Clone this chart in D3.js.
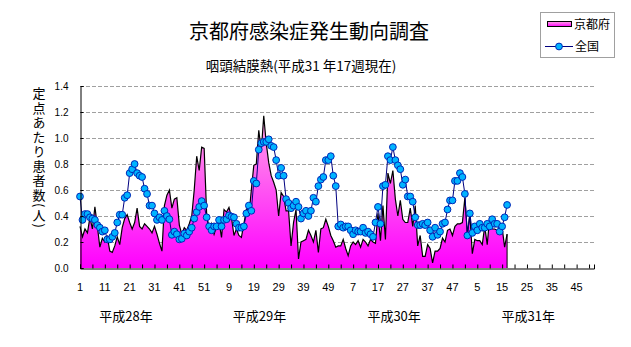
<!DOCTYPE html>
<html><head><meta charset="utf-8">
<script src="https://cdn.jsdelivr.net/npm/d3@7"></script>
<style>
html,body{margin:0;padding:0;background:#fff;}
svg{display:block;}
text{font-family:"Noto Sans CJK JP","Noto Sans",sans-serif;}
</style></head>
<body>
<svg id="chart" width="631" height="347"></svg>
<script>
const title = "京都府感染症発生動向調査";
const subtitle = "咽頭結膜熱(平成31 年17週現在)";
const yAxisTitle = "定点あたり患者数(人)";
const seriesNames = ["京都府", "全国"];
const yTicks = [0, 0.2, 0.4, 0.6, 0.8, 1.0, 1.2, 1.4];
const xTickLabels = ["1","11","21","31","41","51","9","19","29","39","49","7","17","27","37","47","5","15","25","35","45"];
const yearLabels = ["平成28年","平成29年","平成30年","平成31年"];
const totalWeeks = 208;

// 京都府 (weekly, continuous from H28 week 1)
const kyoto = [
0.32,0.24,0.30,0.27,0.39,0.30,0.47,0.32,0.16,0.23,
0.20,0.24,0.13,0.12,0.17,0.24,0.18,0.31,0.38,0.41,
0.35,0.30,0.35,0.46,0.32,0.30,0.34,0.32,0.30,0.27,
0.32,0.26,0.19,0.13,0.48,0.56,0.60,0.46,0.53,0.54,
0.33,0.26,0.31,0.29,0.34,0.40,0.60,0.86,0.75,0.93,
0.92,0.42,0.28,0.34,0.26,0.32,0.35,0.235,0.45,0.43,
0.466,0.39,0.25,0.30,0.25,0.235,0.34,0.45,0.40,0.60,
0.79,0.80,1.06,0.90,1.17,0.96,0.81,0.71,0.66,0.60,
0.40,0.58,0.55,0.44,0.44,0.17,0.35,0.45,0.07,0.20,
0.21,0.22,0.29,0.25,0.20,0.29,0.12,0.30,0.31,0.375,
0.32,0.25,0.21,0.16,0.17,0.17,0.22,0.15,0.095,0.17,
0.20,0.18,0.21,0.16,0.22,0.20,0.17,0.22,0.20,0.19,
0.42,0.21,0.48,0.22,0.73,0.65,0.75,0.53,0.40,0.52,
0.375,0.35,0.35,0.46,0.32,0.48,0.17,0.25,0.09,0.09,
0.18,0.15,0.04,0.13,0.13,0.15,0.23,0.20,0.29,0.30,
0.25,0.32,0.34,0.34,0.35,0.54,0.26,0.41,0.11,0.22,
0.21,0.21,0.18,0.32,0.18,0.39,0.30,0.30,0.29,0.31,
0.31,0.16,0.26
];

// 全国
const national = [
0.55,0.37,0.415,0.415,0.39,0.38,0.37,0.33,0.31,0.28,
0.29,0.22,0.22,0.24,0.27,0.35,0.41,0.41,0.54,0.56,
0.73,0.76,0.80,0.73,0.71,0.70,0.61,0.57,0.48,0.48,
0.42,0.37,0.39,0.37,0.44,0.40,0.375,0.255,0.28,0.26,
0.22,0.225,0.265,0.25,0.28,0.31,0.38,0.43,0.47,0.515,
0.48,0.39,0.32,0.29,0.32,0.32,0.37,0.32,0.37,0.375,
0.405,0.395,0.39,0.34,0.31,0.31,0.32,0.42,0.48,0.44,
0.67,0.65,0.91,0.96,0.97,0.97,0.99,0.94,0.93,0.83,
0.71,0.77,0.71,0.53,0.50,0.46,0.48,0.51,0.47,0.38,
0.42,0.44,0.40,0.44,0.54,0.51,0.63,0.68,0.70,0.83,
0.83,0.86,0.71,0.63,0.32,0.335,0.31,0.32,0.32,0.29,
0.26,0.29,0.28,0.28,0.31,0.27,0.28,0.26,0.24,0.35,
0.47,0.34,0.63,0.64,0.86,0.83,0.93,0.83,0.79,0.76,
0.64,0.68,0.55,0.55,0.51,0.39,0.33,0.33,0.34,0.33,
0.35,0.29,0.24,0.31,0.255,0.28,0.34,0.35,0.45,0.52,
0.52,0.67,0.67,0.73,0.70,0.57,0.25,0.42,0.27,0.32,
0.29,0.34,0.31,0.31,0.34,0.32,0.375,0.34,0.34,0.28,
0.32,0.39,0.485
];

const svg = d3.select("#chart");
const x = d3.scaleLinear().domain([1, totalWeeks]).range([80, 594]);
const y = d3.scaleLinear().domain([0, 1.4]).range([268, 86]);

// gradient
const defs = svg.append("defs");
const grad = defs.append("linearGradient").attr("id","pinkGrad")
  .attr("gradientUnits","userSpaceOnUse").attr("x1",0).attr("x2",0)
  .attr("y1",y(0)).attr("y2",y(1.2));
grad.append("stop").attr("offset","0%").attr("stop-color","#ff00ff");
grad.append("stop").attr("offset","100%").attr("stop-color","#ffa8e6");
const lgrad = defs.append("linearGradient").attr("id","legGrad")
  .attr("x1",0).attr("x2",0).attr("y1",1).attr("y2",0);
lgrad.append("stop").attr("offset","0%").attr("stop-color","#ff00ff");
lgrad.append("stop").attr("offset","100%").attr("stop-color","#ffa8e6");

// gridlines
svg.append("g").selectAll("line").data(yTicks.filter(d=>d>0)).join("line")
  .attr("x1", x(1)).attr("x2", x(totalWeeks))
  .attr("y1", d=>y(d)+0.5).attr("y2", d=>y(d)+0.5)
  .attr("stroke","#a0a0a0").attr("stroke-width",1).attr("stroke-dasharray","4,2");

// Kyoto area
const kData = kyoto.map((v,i)=>({w:i+1, v}));
const area = d3.area().x(d=>x(d.w)).y0(y(0)).y1(d=>y(d.v));
svg.append("path").datum(kData).attr("d", area).attr("fill","url(#pinkGrad)");
const line = d3.line().x(d=>x(d.w)).y(d=>y(d.v));
svg.append("path").datum(kData).attr("d", line).attr("fill","none")
  .attr("stroke","#000").attr("stroke-width",1.2);
const last = kData[kData.length-1];
svg.append("line").attr("x1",x(last.w)).attr("x2",x(last.w)).attr("y1",y(last.v)).attr("y2",y(0))
  .attr("stroke","#000").attr("stroke-width",1);

// National line
const nData = national.map((v,i)=>({w:i+1, v}));
svg.append("path").datum(nData).attr("d", line).attr("fill","none")
  .attr("stroke","#000080").attr("stroke-width",1);
svg.append("g").selectAll("circle").data(nData).join("circle")
  .attr("cx", d=>x(d.w)).attr("cy", d=>y(d.v)).attr("r",3.4)
  .attr("fill","#00b4ff").attr("stroke","#0028b8").attr("stroke-width",1);

// axes
const yAxis = d3.axisLeft(y).tickValues(yTicks).tickFormat(d3.format(".1f")).tickSize(-3).tickPadding(12);
const gy = svg.append("g").attr("transform","translate(80.5,0)").call(yAxis);
gy.select(".domain").attr("stroke","#000");
gy.selectAll(".tick line").attr("stroke","#000");
gy.selectAll("text").attr("font-size","10px").attr("fill","#000")
  .style("font-family","'Liberation Sans',sans-serif");

const minorTicks = d3.range(1, totalWeeks+1, 5);
const xAxis = d3.axisBottom(x).tickValues(minorTicks).tickFormat("").tickSize(-4);
const gx = svg.append("g").attr("transform",`translate(0,${y(0)+0.5})`).call(xAxis);
gx.select(".domain").attr("stroke","#000");
gx.selectAll(".tick line").attr("stroke","#000");

// x tick labels
svg.append("g").selectAll("text").data(xTickLabels).join("text")
  .attr("x",(d,i)=>x(1+i*10)).attr("y",291)
  .attr("text-anchor","middle").attr("font-size","11px")
  .style("font-family","'Liberation Sans Narrow','Liberation Sans',sans-serif")
  .text(d=>d);

// year labels
const yearLabelWeek = [19.5, 73.3, 127.5, 181.5];
svg.append("g").selectAll("text").data(yearLabels).join("text")
  .attr("x",(d,i)=>x(yearLabelWeek[i])).attr("y",321)
  .attr("text-anchor","middle").attr("font-size","13px").text(d=>d);

// titles
svg.append("text").attr("x",309).attr("y",39).attr("text-anchor","middle")
  .attr("font-size","20px").text(title);
svg.append("text").attr("x",301).attr("y",71).attr("text-anchor","middle")
  .attr("font-size","13.5px").text(subtitle);

// y axis title (vertical)
svg.append("text").attr("x",39).attr("y",87)
  .style("writing-mode","vertical-rl").style("letter-spacing","1.5px")
  .attr("font-size","13px").text(yAxisTitle);

// legend
const lg = svg.append("g");
lg.append("rect").attr("x",540.5).attr("y",12.5).attr("width",74).attr("height",45)
  .attr("fill","#fff").attr("stroke","#a0a0a0");
lg.append("rect").attr("x",547.5).attr("y",21.5).attr("width",24).attr("height",5)
  .attr("fill","url(#legGrad)").attr("stroke","#000");
lg.append("text").attr("x",574).attr("y",29).attr("font-size","12px").text(seriesNames[0]);
lg.append("line").attr("x1",545).attr("x2",573).attr("y1",46.5).attr("y2",46.5)
  .attr("stroke","#000080");
lg.append("circle").attr("cx",559).attr("cy",46.5).attr("r",3.4)
  .attr("fill","#00b4ff").attr("stroke","#0028b8");
lg.append("text").attr("x",575).attr("y",51).attr("font-size","12px").text(seriesNames[1]);
</script>
</body></html>
